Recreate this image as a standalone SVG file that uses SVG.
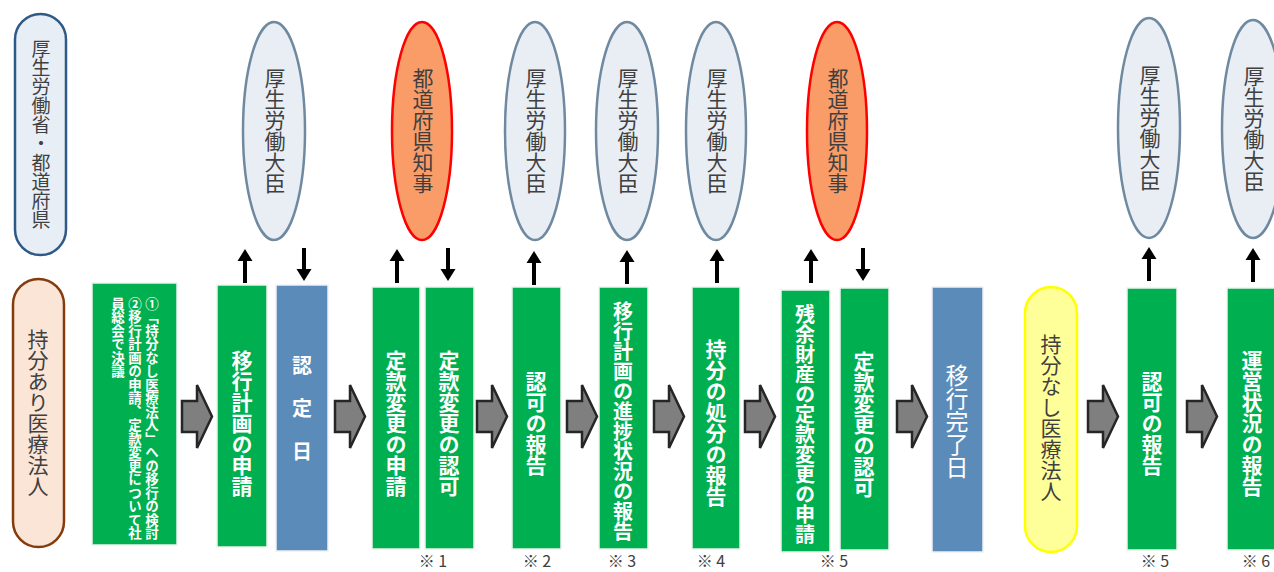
<svg xmlns="http://www.w3.org/2000/svg" xmlns:xlink="http://www.w3.org/1999/xlink" width="1274" height="572" viewBox="0 0 1274 572">
<style>
text{font-family:"Noto Sans CJK JP","Noto Sans",sans-serif;}
.v{writing-mode:vertical-rl;text-anchor:middle;}
.vs{writing-mode:vertical-rl;text-anchor:start;}
.dark{fill:#404040;font-size:21px;}
.wb{fill:#ffffff;font-size:21px;font-weight:bold;}
.green{fill:#00B050;stroke:#EEF3EE;stroke-width:1.5;}
.blue{fill:#5B8BB9;stroke:#EEF1F5;stroke-width:1.5;}
.mhlw{fill:#E9EEF5;stroke:#6F8AA0;stroke-width:2.5;}
.pref{fill:#F99C68;stroke:#FF0000;stroke-width:2.5;}
.blk{fill:#7F7F7F;stroke:#262626;stroke-width:2.5;stroke-linejoin:miter;}
.sm{fill:#000000;}
.note{fill:#404040;font-size:16px;text-anchor:middle;}
</style>
<defs>
<path id="blkarrow" class="blk" d="M0,16 H15 V0 L30,31.5 L15,63 V47 H0 Z"/>
<path id="up" class="sm" d="M0,0 L7.5,12 H2 V34 H-2 V12 H-7.5 Z"/>
<path id="down" class="sm" d="M0,33 L7.5,21 H2 V0 H-2 V21 H-7.5 Z"/>
</defs>

<g id="lane-gov">
<rect x="15" y="14" width="51" height="241" rx="25.5" fill="#E8EEF6" stroke="#2F5A85" stroke-width="2.5"/>
<text class="v dark" x="41" y="134" style="font-size:19px">厚生労働省・都道府県</text>
</g>
<g id="lane-corp">
<rect x="13" y="279" width="51" height="268" rx="25.5" fill="#FBE5D6" stroke="#843C0C" stroke-width="2.5"/>
<text class="v dark" x="38" y="413">持分あり医療法人</text>
</g>

<g id="mhlw1"><ellipse class="mhlw" cx="274" cy="131" rx="31" ry="109"/><text class="v dark" x="275" y="131">厚生労働大臣</text></g>
<g id="pref1"><ellipse class="pref" cx="422" cy="131" rx="30" ry="109"/><text class="v dark" x="423" y="131">都道府県知事</text></g>
<g id="mhlw2"><ellipse class="mhlw" cx="535" cy="131" rx="30" ry="109"/><text class="v dark" x="536" y="131">厚生労働大臣</text></g>
<g id="mhlw3"><ellipse class="mhlw" cx="627" cy="131" rx="31" ry="109"/><text class="v dark" x="628" y="131">厚生労働大臣</text></g>
<g id="mhlw4"><ellipse class="mhlw" cx="716" cy="131" rx="30" ry="109"/><text class="v dark" x="717" y="131">厚生労働大臣</text></g>
<g id="pref2"><ellipse class="pref" cx="837" cy="131" rx="30" ry="109"/><text class="v dark" x="838" y="131">都道府県知事</text></g>
<g id="mhlw5"><ellipse class="mhlw" cx="1149" cy="128" rx="31" ry="110"/><text class="v dark" x="1150" y="128">厚生労働大臣</text></g>
<g id="mhlw6"><ellipse class="mhlw" cx="1253" cy="129" rx="31" ry="109"/><text class="v dark" x="1254" y="129">厚生労働大臣</text></g>

<g id="step0">
<rect class="green" x="92" y="283" width="85" height="262"/>
<text class="vs wb" x="152" y="297" style="font-size:13.5px">①「持分なし医療法人」への移行の検討</text>
<text class="vs wb" x="135" y="297" style="font-size:13.5px">②移行計画の申請、定款変更について社</text>
<text class="vs wb" x="118" y="297" style="font-size:13.5px">員総会で決議</text>
</g>
<g id="step1"><rect class="green" x="217" y="285" width="50" height="262"/><text class="v wb" x="242" y="423">移行計画の申請</text></g>
<g id="step2"><rect class="blue" x="276" y="285" width="52" height="266"/><text class="v wb" x="302" y="420" style="font-size:20px;letter-spacing:23px">認定日</text></g>
<g id="step3"><rect class="green" x="372" y="287" width="48" height="262"/><text class="v wb" x="396" y="423">定款変更の申請</text></g>
<g id="step4"><rect class="green" x="425" y="287" width="49" height="262"/><text class="v wb" x="449" y="423">定款変更の認可</text><text class="note" x="433" y="567">※ 1</text></g>
<g id="step5"><rect class="green" x="512" y="287" width="49" height="262"/><text class="v wb" x="536" y="423">認可の報告</text><text class="note" x="537" y="567">※ 2</text></g>
<g id="step6"><rect class="green" x="599" y="287" width="49" height="262"/><text class="v wb" x="623" y="421" style="font-size:20px">移行計画の進捗状況の報告</text><text class="note" x="622" y="567">※ 3</text></g>
<g id="step7"><rect class="green" x="692" y="287" width="48" height="262"/><text class="v wb" x="716" y="423">持分の処分の報告</text><text class="note" x="711" y="567">※ 4</text></g>
<g id="step8"><rect class="green" x="781" y="290" width="49" height="262"/><text class="v wb" x="805" y="424" style="font-size:20px">残余財産の定款変更の申請</text></g>
<g id="step9"><rect class="green" x="840" y="288" width="49" height="262"/><text class="v wb" x="864" y="424">定款変更の認可</text><text class="note" x="834" y="567">※ 5</text></g>
<g id="step10"><rect class="blue" x="932" y="287" width="51" height="265"/><text class="v" x="957" y="421" style="fill:#ffffff;font-size:23px">移行完了日</text></g>
<g id="step11"><rect x="1025" y="287" width="52" height="265" rx="26" fill="#FFFF99" stroke="#FFFF00" stroke-width="2.5"/><text class="v dark" x="1051" y="418">持分なし医療法人</text></g>
<g id="step12"><rect class="green" x="1127" y="288" width="50" height="262"/><text class="v wb" x="1152" y="423">認可の報告</text><text class="note" x="1155" y="567">※ 5</text></g>
<g id="step13"><rect class="green" x="1227" y="288" width="50" height="262"/><text class="v wb" x="1252" y="423">運営状況の報告</text><text class="note" x="1256" y="567">※ 6</text></g>

<g id="connectors">
<use xlink:href="#blkarrow" x="182" y="385"/>
<use xlink:href="#blkarrow" x="335" y="385"/>
<use xlink:href="#blkarrow" x="477" y="385"/>
<use xlink:href="#blkarrow" x="567" y="385"/>
<use xlink:href="#blkarrow" x="654" y="385"/>
<use xlink:href="#blkarrow" x="745" y="385"/>
<use xlink:href="#blkarrow" x="897" y="385"/>
<use xlink:href="#blkarrow" x="1088" y="385"/>
<use xlink:href="#blkarrow" x="1187" y="385"/>
<use xlink:href="#up" x="245" y="249"/>
<use xlink:href="#down" x="304" y="248"/>
<use xlink:href="#up" x="397" y="249"/>
<use xlink:href="#down" x="448" y="248"/>
<use xlink:href="#up" x="534" y="251"/>
<use xlink:href="#up" x="627" y="250"/>
<use xlink:href="#up" x="717" y="249"/>
<use xlink:href="#up" x="811" y="249"/>
<use xlink:href="#down" x="863" y="248"/>
<use xlink:href="#up" x="1149" y="247"/>
<use xlink:href="#up" x="1253" y="248"/>
</g>
</svg>
